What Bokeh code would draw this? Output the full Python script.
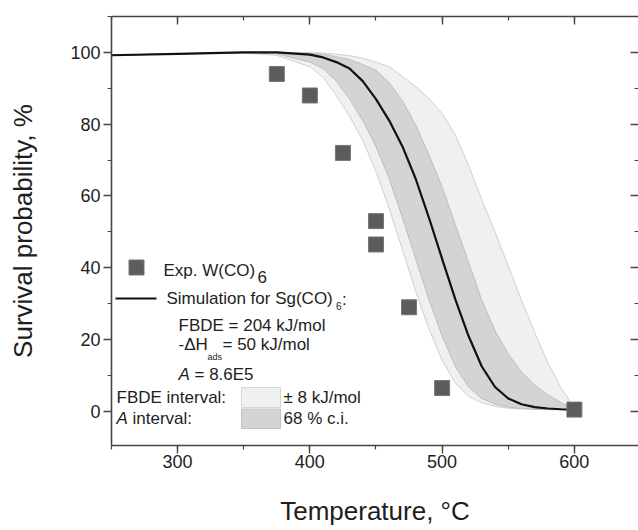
from bokeh.plotting import figure
from bokeh.models import Range1d, LinearAxis, SingleIntervalTicker, Label
from bokeh.embed import file_html
from bokeh.resources import INLINE

# ---------------- data ----------------
temp = [250, 300, 350, 375, 400, 410, 420, 430, 440, 450, 460, 470, 480,
        490, 500, 510, 520, 530, 540, 550, 560, 570, 580, 590, 600]
sim = [99.2, 99.6, 100.0, 100.0, 99.4, 98.6, 97.3, 95.5, 92.0, 87.0, 81.0, 73.8, 64.8,
       54.0, 42.5, 31.2, 21.0, 12.5, 6.8, 3.6, 2.0, 1.2, 0.8, 0.6, 0.5]
a_lo = [99.2, 99.6, 99.9, 99.6, 97.3, 95.5, 92.0, 87.0, 81.0, 73.8, 64.8, 54.0, 42.5,
        31.2, 21.0, 12.5, 6.8, 3.6, 2.0, 1.2, 0.8, 0.6, 0.5, 0.5, 0.4]
a_hi = [99.2, 99.6, 100.0, 100.0, 99.8, 99.5, 98.8, 98.0, 96.6, 95.0, 91.5, 86.5, 79.8,
        71.5, 62.5, 52.0, 41.5, 31.0, 22.5, 16.0, 11.0, 7.3, 4.6, 2.4, 0.6]
fbde_lo = [99.2, 99.6, 99.8, 99.2, 96.0, 93.0, 88.0, 82.2, 75.5, 66.8, 56.5, 45.0, 33.5,
           23.0, 14.2, 7.9, 4.2, 2.4, 1.4, 0.9, 0.7, 0.6, 0.5, 0.5, 0.4]
fbde_hi = [99.2, 99.6, 100.0, 100.0, 99.9, 99.8, 99.5, 99.1, 98.4, 97.3, 96.0, 93.3, 90.5,
           87.2, 83.0, 77.0, 68.5, 59.0, 50.0, 40.5, 31.0, 22.0, 13.5, 6.5, 1.0]

exp_temp = [375, 400, 425, 450, 450, 475, 500, 600]
exp_surv = [94.0, 88.0, 72.0, 53.0, 46.5, 29.0, 6.5, 0.5]

x_major = 100
y_major = 20
x_title = "Temperature, °C"
y_title = "Survival probability, %"

FONT = "Liberation Sans"
INK = "#1e1e1e"
AX = "#454545"

X0, X1 = 250, 648.5
Y0, Y1 = -9.5, 110

# ---------------- figure ----------------
p = figure(width=638, height=530, output_backend="svg", toolbar_location=None,
           x_range=Range1d(X0, X1), y_range=Range1d(Y0, Y1),
           min_border_left=111, min_border_right=0, min_border_top=16,
           min_border_bottom=85, background_fill_color="white",
           border_fill_color="white", outline_line_color=None)
p.grid.visible = False


def style_axis(ax, ticker, tin, tout, labels=True):
    ax.ticker = ticker
    ax.axis_line_color = AX
    ax.axis_line_width = 1.6
    ax.major_tick_line_color = AX
    ax.minor_tick_line_color = AX
    ax.major_tick_line_width = 1.4
    ax.minor_tick_line_width = 1.2
    ax.major_tick_in = tin
    ax.major_tick_out = tout
    ax.minor_tick_in = tin // 2
    ax.minor_tick_out = tout // 2
    if labels:
        ax.major_label_text_font = FONT
        ax.major_label_text_font_size = "18px"
        ax.major_label_text_color = INK
    else:
        ax.major_label_text_color = None
        ax.major_label_text_font_size = "1px"
        ax.major_label_standoff = 0


def style_title(ax, text, standoff):
    ax.axis_label = text
    ax.axis_label_text_font = FONT
    ax.axis_label_text_font_size = "26px"
    ax.axis_label_text_font_style = "normal"
    ax.axis_label_text_color = INK
    ax.axis_label_standoff = standoff


xa = p.xaxis[0]
style_axis(xa, SingleIntervalTicker(interval=x_major, num_minor_ticks=2), 0, 8)
xa.major_label_standoff = 1
style_title(xa, x_title, 25)

ya = p.yaxis[0]
style_axis(ya, SingleIntervalTicker(interval=y_major, num_minor_ticks=2), 0, 8)
ya.major_label_standoff = 3
style_title(ya, y_title, 29)

top = LinearAxis()
style_axis(top, SingleIntervalTicker(interval=x_major, num_minor_ticks=2), 8, 0, labels=False)
p.add_layout(top, "above")

right = LinearAxis()
style_axis(right, SingleIntervalTicker(interval=y_major, num_minor_ticks=2), 8, 0, labels=False)
right.axis_line_color = None
p.add_layout(right, "right")

# ---------------- bands and curve ----------------
p.varea(x=temp, y1=fbde_lo, y2=fbde_hi, fill_color="#f0f0f0")
p.line(temp, fbde_lo, line_color="#cfcfcf", line_width=1)
p.line(temp, fbde_hi, line_color="#cfcfcf", line_width=1)
p.varea(x=temp, y1=a_lo, y2=a_hi, fill_color="#d4d4d4")
p.line(temp, a_lo, line_color="#bdbdbd", line_width=1)
p.line(temp, a_hi, line_color="#bdbdbd", line_width=1)
p.line(temp, sim, line_color="#111111", line_width=2.2)

p.scatter(exp_temp, exp_surv, marker="square", size=15,
          fill_color="#5c5c5c", line_color="#767676", line_width=1)

# ---------------- hand-placed legend (reference pixel positions) ----------------
SX = 527 / (X1 - X0)   # px per degree
SY = 429 / (Y1 - Y0)   # px per percent


def dx(px):
    return X0 + (px - 111) / SX


def dy(py):
    return Y1 - (py - 16) / SY


p.scatter([dx(136)], [dy(267)], marker="square", size=15,
          fill_color="#5c5c5c", line_color="#767676", line_width=1)
p.line([dx(115), dx(156)], [dy(298), dy(298)], line_color="#111111", line_width=2.2)
p.quad(left=[dx(241)], right=[dx(280)], top=[dy(387)], bottom=[dy(407)],
       fill_color="#f0f0f0", line_color="#d6d6d6", line_width=1)
p.quad(left=[dx(241)], right=[dx(280)], top=[dy(408.5)], bottom=[dy(428)],
       fill_color="#d4d4d4", line_color="#c2c2c2", line_width=1)


def txt(px, py, s, size=17, style="normal"):
    p.add_layout(Label(x=dx(px), y=dy(py), text=s, text_font=FONT,
                       text_font_size=f"{size}px", text_font_style=style,
                       text_color=INK, text_baseline="middle", text_align="left"))


txt(163, 270, "Exp. W(CO)")
txt(257, 276, "6")
txt(166, 298, "Simulation for Sg(CO)")
txt(335.5, 305, "6", size=10)
txt(341.5, 299, ":")
txt(178, 325, "FBDE = 204 kJ/mol")
txt(178, 344, "-\u0394H")
txt(207, 356, "ads", size=9)
txt(222, 344, "= 50 kJ/mol")
txt(178, 374, "A", style="italic")
txt(194, 374, "= 8.6E5")
txt(116, 397, "FBDE interval:")
txt(116, 418, "A", style="italic")
txt(132, 418, "interval:")
txt(283, 397, "\u00b1 8 kJ/mol")
txt(283, 418, "68 % c.i.")

open("out.html", "w").write(file_html(p, INLINE))
